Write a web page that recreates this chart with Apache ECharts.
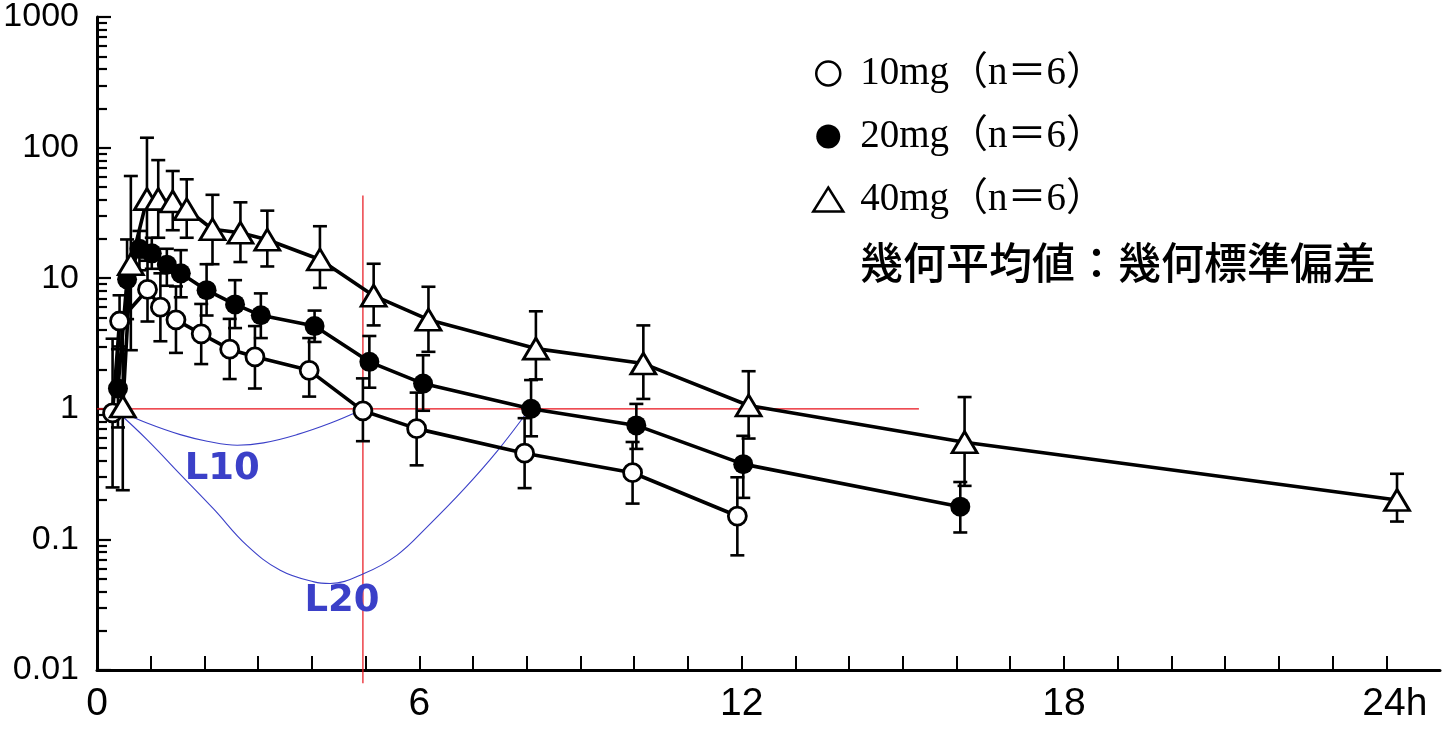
<!DOCTYPE html>
<html><head><meta charset="utf-8">
<script src="https://cdn.jsdelivr.net/npm/echarts@6/dist/echarts.min.js"></script>
<style>html,body{margin:0;padding:0;background:#fff}#c{width:1453px;height:731px}</style>
</head><body><div id="c"></div>
<script>
// ---- axis ticks / labels ----
const xTickValues = [0,1,2,3,4,5,6,7,8,9,10,11,12,13,14,15,16,17,18,19,20,21,22,23,24];
const xLabelValues = [0,6,12,18,24];
const yMajorTicks = [0.01,0.1,1,10,100,1000];
const yTickLabels = ['0.01','0.1','1','10','100','1000'];
const yMinorTicks = [0.02,0.03,0.04,0.05,0.06,0.07,0.08,0.09,
  0.2,0.3,0.4,0.5,0.6,0.7,0.8,0.9,
  2,3,4,5,6,7,8,9,
  20,30,40,50,60,70,80,90,
  200,300,400,500,600,700,800,900];

// ---- legend / notes ----
const legendNames = ['10mg（n＝6）','20mg（n＝6）','40mg（n＝6）'];
const noteText = '幾何平均値：幾何標準偏差';

// ---- 10 mg (open circles) ----
const t10  = [0.29,0.42,0.94,1.18,1.47,1.94,2.47,2.94,3.95,4.95,5.95,7.96,9.97,11.92];
const v10  = [0.93,4.7,8.2,6.0,4.8,3.75,2.86,2.5,1.97,0.965,0.705,0.457,0.324,0.151];
const lo10 = [0.25,3.0,4.66,3.29,2.68,2.2,1.69,1.43,1.24,0.565,0.369,0.247,0.188,0.0755];
const hi10 = [3.44,7.4,14.4,10.9,8.65,6.35,4.88,4.3,3.48,1.71,1.33,0.848,0.557,0.299];

// ---- 20 mg (filled circles) ----
const t20  = [0.39,0.56,0.79,1.02,1.30,1.56,2.04,2.57,3.05,4.05,5.07,6.07,8.08,10.04,12.03,16.07];
const v20  = [1.43,9.8,16.8,15.5,12.7,10.9,8.1,6.3,5.2,4.3,2.29,1.56,1.0,0.746,0.377,0.178];
const lo20 = [0.72,4.86,11.5,11.8,8.75,7.14,5.18,4.15,3.48,3.25,1.45,0.966,0.616,0.493,0.208,0.113];
const hi20 = [2.86,19.8,23,20.4,16.8,16.4,12.8,9.66,7.65,5.65,3.61,2.57,1.66,1.09,0.621,0.275];

// ---- 40 mg (open triangles) ----
const t40  = [0.48,0.63,0.93,1.14,1.41,1.67,2.15,2.67,3.17,4.15,5.15,6.17,8.17,10.17,12.13,16.15,24.2];
const v40  = [1.04,12.8,40.3,40.3,38.7,33.7,23.7,22.3,19.7,13.9,7.35,4.81,2.89,2.22,1.06,0.555,0.20];
const lo40 = [0.238,2.81,13.6,20.4,23.3,20.4,12.8,13.3,12.3,8.43,4.35,2.73,1.68,1.19,0.592,0.257,0.137];
const hi40 = [4.53,60.6,119,80.2,66.2,57.2,43.5,38.1,32.9,25.0,12.9,8.6,5.58,4.35,1.94,1.23,0.318];

// ---- annotation lines ----
const refVT = [4.95,4.95];  const refVV = [43,0.0079];
const refHT = [0,15.3];     const refHV = [1,1];
const l10T = [0.31,0.93,1.55,2.05,2.61,3.10,3.72,4.35,4.93];
const l10V = [1.0,0.778,0.634,0.565,0.526,0.548,0.634,0.778,0.983];
const l20T = [0.34,0.93,1.55,2.17,2.79,3.41,4.04,4.34,4.97,5.58,6.17,6.83,7.45,8.04];
const l20V = [0.983,0.581,0.315,0.171,0.0899,0.058,0.0473,0.046,0.0548,0.0755,0.1276,0.2424,0.474,0.983];
const annNames = ['L10','L20'];
const annT = [2.33,4.56];
const annV = [0.346,0.0337];

const zip2 = (a,b) => a.map((x,i)=>[x,b[i]]);
const zip3 = (a,b,c) => a.map((x,i)=>[x,b[i],c[i]]);

function errRender(params, api){
  const x = api.value(0), lo = api.value(1), hi = api.value(2);
  const p1 = api.coord([x, hi]), p2 = api.coord([x, lo]);
  const w = 7;
  const style = {stroke:'#000', lineWidth:2.6, fill:null};
  return {type:'group', children:[
    {type:'line', shape:{x1:p1[0],y1:p1[1],x2:p2[0],y2:p2[1]}, style},
    {type:'line', shape:{x1:p1[0]-w,y1:p1[1],x2:p1[0]+w,y2:p1[1]}, style},
    {type:'line', shape:{x1:p2[0]-w,y1:p2[1],x2:p2[0]+w,y2:p2[1]}, style}
  ]};
}
function errSeries(name, t, lo, hi){
  return {type:'custom', name, renderItem: errRender, data: zip3(t,lo,hi),
    encode:{x:0,y:[1,2]}, z:3, silent:true, clip:false};
}

const blue = '#3b40c8';
const chart = echarts.init(document.getElementById('c'), null, {renderer:'canvas'});
chart.setOption({
  animation:false,
  backgroundColor:'#fff',
  grid:{left:97, right:13, top:12, bottom:61, containLabel:false},
  title:{text: noteText, left: 855, top: 236,
    textStyle:{fontFamily:'"Noto Sans CJK JP", sans-serif', fontSize:43, fontWeight:500, color:'#000'}},
  legend:{
    orient:'vertical', left:807, top:49, itemWidth:30, itemHeight:24, itemGap:24,
    selectedMode:false,
    textStyle:{fontFamily:'"Liberation Serif", "Noto Sans CJK JP", serif', fontSize:39, color:'#000', padding:[0,0,0,12]},
    data:[
      {name:legendNames[0], icon:'circle', itemStyle:{color:'#fff', borderColor:'#000', borderWidth:2.5}},
      {name:legendNames[1], icon:'circle', itemStyle:{color:'#000', borderColor:'#000', borderWidth:0}},
      {name:legendNames[2], icon:'triangle', itemStyle:{color:'#fff', borderColor:'#000', borderWidth:2.5}}
    ]
  },
  xAxis:{
    type:'value', min:0, max:25,
    axisLine:{show:true, lineStyle:{color:'#000', width:3}},
    axisTick:{show:true, inside:true, length:14, lineStyle:{color:'#000', width:2}, customValues:xTickValues},
    axisLabel:{show:true, margin:15, customValues:xLabelValues,
      fontFamily:'"Liberation Sans Narrow", "Arial Narrow", "Liberation Sans", sans-serif', fontSize:39, color:'#000',
      formatter:(v)=> v===24 ? '{a|24h}' : String(v),
      rich:{a:{fontFamily:'"Liberation Sans Narrow", "Arial Narrow", "Liberation Sans", sans-serif', fontSize:39, color:'#000', padding:[0,0,0,17]}}},
    splitLine:{show:false}
  },
  yAxis:[{
    type:'log', logBase:10, min:0.01, max:1000,
    axisLine:{show:true, lineStyle:{color:'#000', width:3}},
    axisTick:{show:true, inside:true, length:14, lineStyle:{color:'#000', width:2.2}, customValues:yMajorTicks},
    minorTick:{show:false},
    axisLabel:{show:true, margin:18, customValues:yMajorTicks,
      fontFamily:'"Liberation Sans", Arial, sans-serif', fontSize:34, color:'#000',
      formatter:(v)=> yTickLabels[Math.round(Math.log10(v))+2]},
    splitLine:{show:false}
  },{
    type:'log', logBase:10, min:0.01, max:1000, position:'left', offset:0,
    axisLine:{show:false},
    axisTick:{show:true, inside:true, length:10, lineStyle:{color:'#000', width:2.2}, customValues:yMinorTicks},
    axisLabel:{show:false},
    splitLine:{show:false}
  }],
  series:[
    {type:'line', name:'refV', data:zip2(refVT,refVV), symbol:'none', clip:false, z:1,
      lineStyle:{color:'#e8101a', width:1.2}, silent:true},
    {type:'line', name:'refH', data:zip2(refHT,refHV), symbol:'none', z:1,
      lineStyle:{color:'#e8101a', width:1.2}, silent:true},
    {type:'line', name:'L10curve', data:zip2(l10T,l10V), symbol:'none', smooth:0.4, z:1,
      lineStyle:{color:blue, width:1.1}, silent:true},
    {type:'line', name:'L20curve', data:zip2(l20T,l20V), symbol:'none', smooth:0.4, z:1,
      lineStyle:{color:blue, width:1.1}, silent:true},
    {type:'scatter', name:'ann', symbolSize:0, z:5, silent:true,
      itemStyle:{opacity:1},
      data: annNames.map((n,i)=>({name:n, value:[annT[i], annV[i]]})),
      label:{show:true, position:'inside', formatter:'{b}', color:blue, opacity:1,
        fontFamily:'"DejaVu Sans", Verdana, sans-serif', fontWeight:'bold', fontSize:37}},
    errSeries('err10', t10, lo10, hi10),
    errSeries('err20', t20, lo20, hi20),
    errSeries('err40', t40, lo40, hi40),
    {type:'line', name:legendNames[0], data:zip2(t10,v10), z:4,
      symbol:'circle', symbolSize:18,
      itemStyle:{color:'#fff', borderColor:'#000', borderWidth:2.8},
      lineStyle:{color:'#000', width:3.6}},
    {type:'line', name:legendNames[1], data:zip2(t20,v20), z:4,
      symbol:'circle', symbolSize:20,
      itemStyle:{color:'#000', borderColor:'#000', borderWidth:0},
      lineStyle:{color:'#000', width:3.6}},
    {type:'line', name:legendNames[2], data:zip2(t40,v40), z:4,
      symbol:'triangle', symbolSize:[25,21],
      itemStyle:{color:'#fff', borderColor:'#000', borderWidth:2.8},
      lineStyle:{color:'#000', width:3.6}}
  ]
});
</script>
</body></html>
